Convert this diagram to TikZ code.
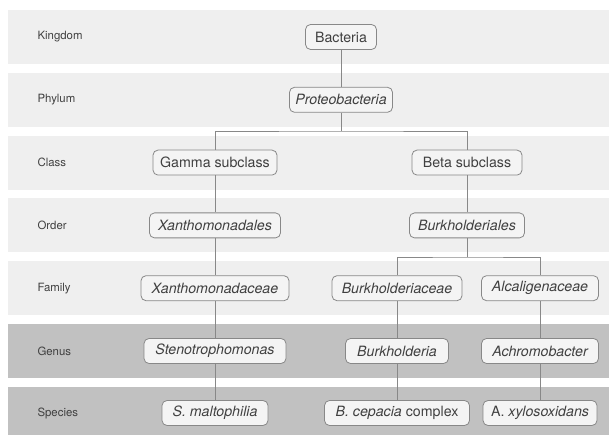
\documentclass[tikz,border=0pt]{standalone}
\usepackage{fontspec}
\setmainfont{TeX Gyre Heros}
\definecolor{bandlight}{HTML}{EFEFEF}
\definecolor{banddark}{HTML}{C1C1C1}
\definecolor{boxfill}{HTML}{F4F4F4}
\definecolor{rulegray}{HTML}{888888}
\definecolor{ink}{HTML}{404040}
\tikzset{
  taxon/.style={draw=rulegray, fill=boxfill, rounded corners=5pt, line width=0.8pt,
    minimum height=25pt, inner xsep=4pt, inner ysep=0pt, text=ink,
    font=\fontsize{14.2}{16}\selectfont},
  rank/.style={anchor=west, text=ink, font=\fontsize{11.4}{13}\selectfont},
  link/.style={draw=rulegray, line width=0.8pt},
}
\begin{document}
\begin{tikzpicture}[x=1pt, y=-1pt]
  \useasboundingbox (0,0) rectangle (609,435);
  % rank bands
  \foreach \i/\rk/\shade in {0/Kingdom/bandlight, 1/Phylum/bandlight, 2/Class/bandlight,
      3/Order/bandlight, 4/Family/bandlight, 5/Genus/banddark, 6/Species/banddark} {
    \fill[\shade] (8,{10+62.8*\i}) rectangle (609,{min(64+62.8*\i,435)});
    \node[rank] (rank\i) at (34,{37+62.8*\i}) {\rk};
  }
  % taxa
  \node[taxon, minimum width=71pt]  (bacteria) at (341,37)    {Bacteria};
  \node[taxon, minimum width=103pt] (proteo)   at (341,99.8)  {\itshape Proteobacteria};
  \node[taxon, minimum width=124pt] (gamma)    at (215,162.6) {Gamma subclass};
  \node[taxon, minimum width=110pt] (beta)     at (467,162.6) {Beta subclass};
  \node[taxon, minimum width=131pt] (xanord)   at (215,225.4) {\itshape Xanthomonadales};
  \node[taxon, minimum width=115pt] (burkord)  at (467,225.4) {\itshape Burkholderiales};
  \node[taxon, minimum width=148pt] (xanfam)   at (215,288.2) {\itshape Xanthomonadaceae};
  \node[taxon, minimum width=130pt] (burkfam)  at (397,288.2) {\itshape Burkholderiaceae};
  \node[taxon, minimum width=117pt] (alcfam)   at (540,288.2) {\itshape Alcaligenaceae};
  \node[taxon, minimum width=142pt] (steno)    at (215,351)   {\itshape Stenotrophomonas};
  \node[taxon, minimum width=103pt] (burkgen)  at (397,351)   {\itshape Burkholderia};
  \node[taxon, minimum width=117pt] (achro)    at (540,351)   {\itshape Achromobacter};
  \node[taxon, minimum width=106pt] (malto)    at (215,413)   {\itshape S. maltophilia};
  \node[taxon, minimum width=145pt] (cepacia)  at (397,413)   {\textit{B. cepacia} complex};
  \node[taxon, minimum width=114pt] (xylo)     at (540,413)   {A. \textit{xylosoxidans}};
  % branch points
  \coordinate (split1) at (341,131);
  \coordinate (split2) at (467,257);
  % connectors
  \draw[link] (bacteria) -- (proteo);
  \draw[link] (proteo) -- (split1);
  \draw[link] (gamma.north) |- (split1) -| (beta.north);
  \draw[link] (gamma) -- (xanord);
  \draw[link] (beta) -- (burkord);
  \draw[link] (xanord) -- (xanfam);
  \draw[link] (burkord) -- (split2);
  \draw[link] (burkfam.north) |- (split2) -| (alcfam.north);
  \draw[link] (xanfam) -- (steno);
  \draw[link] (burkfam) -- (burkgen);
  \draw[link] (alcfam) -- (achro);
  \draw[link] (steno) -- (malto);
  \draw[link] (burkgen) -- (cepacia);
  \draw[link] (achro) -- (xylo);
\end{tikzpicture}
\end{document}
